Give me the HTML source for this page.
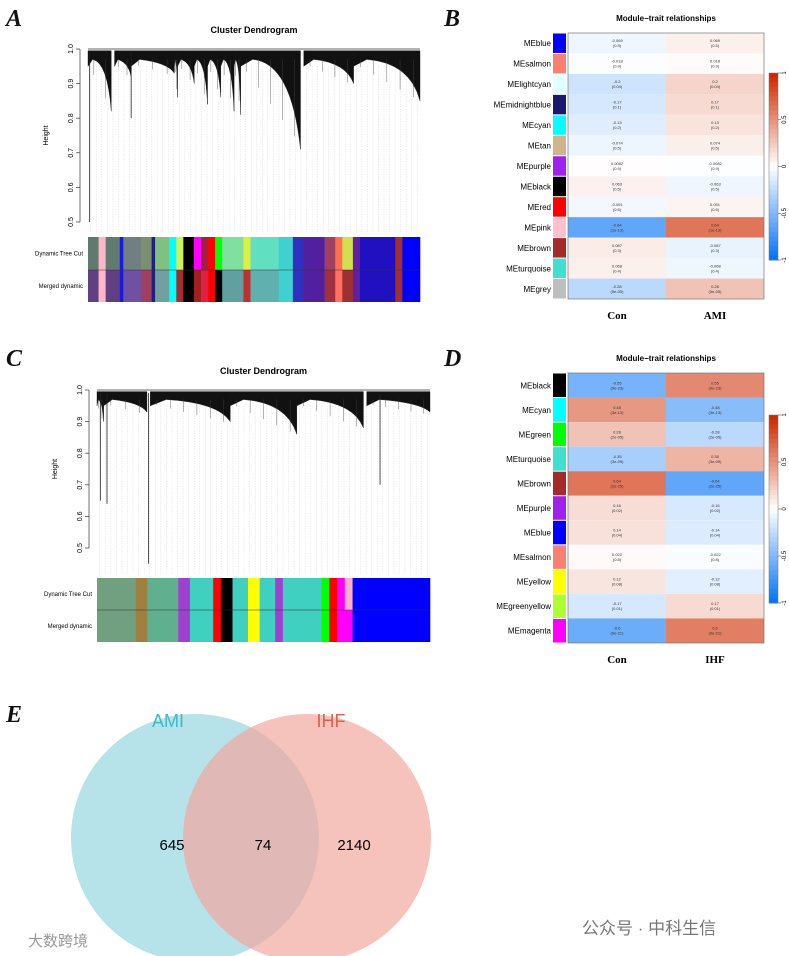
<!DOCTYPE html>
<html><head><meta charset="utf-8"><style>
body{margin:0;background:#fff;width:789px;height:956px;overflow:hidden;font-family:"Liberation Sans",sans-serif}
svg{position:absolute;left:0;top:0}
</style></head><body>
<svg id="fig" width="789" height="956" viewBox="0 0 789 956">
<g font-family="Liberation Serif,serif" font-style="italic" font-weight="bold" font-size="24" fill="#111">
<text x="6" y="26">A</text>
<text x="444" y="26">B</text>
<text x="6" y="366">C</text>
<text x="444" y="366">D</text>
<text x="6" y="722">E</text>
</g>
<g id="gA"></g>
<g id="gC"></g>
<g id="gB"></g>
<g id="gD"></g>
<g>
<circle cx="195" cy="838" r="124" fill="#a9dde6" opacity="0.85"/>
<circle cx="307" cy="838" r="124" fill="#f2a8a0" opacity="0.7"/>
<text x="168" y="727" font-size="18" fill="#3fb8c8" text-anchor="middle">AMI</text>
<text x="331" y="727" font-size="18" fill="#e0604f" text-anchor="middle">IHF</text>
<text x="172" y="850" font-size="15" text-anchor="middle">645</text>
<text x="263" y="850" font-size="15" text-anchor="middle">74</text>
<text x="354" y="850" font-size="15" text-anchor="middle">2140</text>
</g>
<text x="582" y="934" font-size="17" fill="#777" font-family="Liberation Sans,Noto Sans CJK SC,sans-serif">公众号 · 中科生信</text>
<text x="28" y="946" font-size="15" fill="#999" font-family="Liberation Sans,Noto Sans CJK SC,sans-serif">大数跨境</text>
</svg>
<script>
const NS='http://www.w3.org/2000/svg';
function mk(p,t,a,txt){const e=document.createElementNS(NS,t);for(const k in a)e.setAttribute(k,a[k]);if(txt!=null)e.textContent=txt;p.appendChild(e);return e;}

const clA=[[0,0.07,0.82],[0.08,0.13,0.92],[0.13,0.26,0.93],[0.26,0.27,0.86],[0.27,0.32,0.9],[0.32,0.36,0.84],[0.36,0.4,0.86],[0.4,0.44,0.82],[0.44,0.46,0.81],[0.46,0.64,0.71],[0.65,0.8,0.9],[0.8,1.0,0.85]];
const singA=[[0.005,0.5],[0.13,0.8]];
const clC=[[0,0.02,0.9],[0.02,0.15,0.93],[0.16,0.4,0.9],[0.4,0.6,0.86],[0.6,0.8,0.88],[0.81,1.0,0.93]];
const singC=[[0.01,0.65],[0.03,0.64],[0.155,0.45],[0.85,0.7]];
const dynA=[[3,'#607a70'],[2,'#ffb6c8'],[4,'#607a70'],[1,'#1a1adc'],[5,'#708080'],[3,'#7a9070'],[1,'#202080'],[4,'#80c080'],[2,'#00ffff'],[2,'#d0f060'],[3,'#000'],[2,'#ff00ff'],[2,'#a02040'],[2,'#ff0000'],[2,'#00ff00'],[6,'#80e0a0'],[2,'#e0f040'],[8,'#60e0c0'],[4,'#40d0d0'],[3,'#3030c0'],[6,'#5020a0'],[3,'#a04060'],[2,'#ff7050'],[3,'#d0e050'],[2,'#6020a0'],[10,'#2010c0'],[2,'#a03030'],[5,'#0000ff']];
const merA=[[3,'#604080'],[2,'#ffb6c8'],[4,'#604080'],[1,'#1a1adc'],[5,'#7050a0'],[3,'#a04060'],[1,'#202080'],[4,'#70a0a0'],[2,'#00ffff'],[2,'#a03030'],[3,'#000'],[2,'#a02020'],[2,'#e02040'],[2,'#ff0000'],[2,'#000'],[6,'#60a0a0'],[2,'#c03030'],[8,'#60b0b0'],[4,'#40d0d0'],[3,'#3030c0'],[6,'#5020a0'],[3,'#a03040'],[2,'#ff7060'],[3,'#a03030'],[2,'#6020a0'],[10,'#2010c0'],[2,'#a03030'],[5,'#0000ff']];
const dynC=[[10,'#70a080'],[3,'#a08040'],[8,'#60b090'],[3,'#a040d0'],[6,'#40d0c0'],[2,'#ff0000'],[3,'#000'],[4,'#40d0c0'],[3,'#ffff00'],[4,'#40d0c0'],[2,'#a040d0'],[10,'#40d0c0'],[2,'#00ff00'],[2,'#ff0000'],[2,'#ff00ff'],[2,'#ffb0c0'],[20,'#0000ff']];
const merC=[[10,'#70a080'],[3,'#a08040'],[8,'#60b090'],[3,'#a040d0'],[6,'#40d0c0'],[2,'#ff0000'],[3,'#000'],[4,'#40d0c0'],[3,'#ffff00'],[4,'#40d0c0'],[2,'#a040d0'],[10,'#40d0c0'],[2,'#00ff00'],[2,'#ff0000'],[4,'#ff00ff'],[20,'#0000ff']];
const ticksDen=['0.5','0.6','0.7','0.8','0.9','1.0'];

function dendro(g,cfg){
  const {x0,x1,y1,y05,cl,sing,dyn,mer,by0,by1,by2,title,lx}=cfg;
  const ys=v=>y05+(v-0.5)/0.5*(y1-y05);
  const xs=f=>x0+f*(x1-x0);
  mk(g,'text',{x:(x0+x1)/2,y:y1-16,'font-size':9,'font-weight':'bold','text-anchor':'middle',},title);
  mk(g,'line',{x1:x0-8,x2:x0-8,y1:ys(1),y2:ys(0.5),stroke:'#333','stroke-width':0.7});
  ticksDen.forEach(t=>{const y=ys(+t);mk(g,'line',{x1:x0-12,x2:x0-8,y1:y,y2:y,stroke:'#333','stroke-width':0.7});
    mk(g,'text',{x:x0-15,y:y,'font-size':7,'text-anchor':'middle',transform:`rotate(-90 ${x0-15} ${y})`,},t);});
  mk(g,'text',{x:x0-40,y:(ys(1)+ys(0.5))/2,'font-size':7,'text-anchor':'middle',transform:`rotate(-90 ${x0-40} ${(ys(1)+ys(0.5))/2})`,},'Height');
  for(let i=0;i<60;i++){const x=xs((i+0.5)/60);mk(g,'line',{x1:x,x2:x,y1:ys(0.95),y2:by0-4,stroke:'#ccc','stroke-width':0.5,'stroke-dasharray':'1 1.5'});}
  cl.forEach(c=>{const [a,b,m]=c;const top=ys(0.995);const mid=ys(0.97);
    const d=`M${xs(a)},${top} L${xs(b)},${top} L${xs(b)},${ys(m)} Q${xs(a+(b-a)*0.85)},${ys(0.96)} ${xs(a+(b-a)*0.2)},${mid} L${xs(a)},${ys(0.95)} Z`;
    const p=mk(g,'path',{d,fill:'#111',stroke:'#111','stroke-width':0.4});
    const n=Math.max(2,Math.round((b-a)*25));
    for(let k=0;k<n;k++){const f=a+(b-a)*(k+0.5)/n;const h=ys(0.97)+(ys(m)-ys(0.97))*((k+0.5)/n)*0.9+4;
      mk(g,'line',{x1:xs(f),x2:xs(f),y1:ys(0.97),y2:h,stroke:'#444','stroke-width':0.4});}});
  sing.forEach(s=>mk(g,'line',{x1:xs(s[0]),x2:xs(s[0]),y1:ys(0.99),y2:ys(s[1]),stroke:'#222','stroke-width':0.8,}));
  mk(g,'line',{x1:x0,x2:x1,y1:ys(1),y2:ys(1),stroke:'#333','stroke-width':0.7});
  [[dyn,by0,by1],[mer,by1,by2]].forEach(([arr,a,b])=>{const tot=arr.reduce((s,v)=>s+v[0],0);let c=0;
    arr.forEach(s=>{const r=mk(g,'rect',{x:xs(c/tot),y:a,width:(x1-x0)*s[0]/tot+0.3,height:b-a,fill:s[1]});c+=s[0];});});
  mk(g,'line',{x1:x0,x2:x1,y1:by1,y2:by1,stroke:'#333','stroke-width':0.6});
  mk(g,'text',{x:lx,y:(by0+by1)/2+2,'font-size':6,'text-anchor':'end',},'Dynamic Tree Cut');
  mk(g,'text',{x:lx,y:(by1+by2)/2+2,'font-size':6,'text-anchor':'end',},'Merged dynamic');
}
dendro(document.getElementById('gA'),{x0:88,x1:420,y1:49,y05:222,cl:clA,sing:singA,dyn:dynA,mer:merA,by0:237,by1:270,by2:302,title:'Cluster Dendrogram',lx:83});
dendro(document.getElementById('gC'),{x0:97,x1:430,y1:390,y05:548,cl:clC,sing:singC,dyn:dynC,mer:merC,by0:578,by1:610,by2:642,title:'Cluster Dendrogram',lx:92});

const modB=['MEblue','MEsalmon','MElightcyan','MEmidnightblue','MEcyan','MEtan','MEpurple','MEblack','MEred','MEpink','MEbrown','MEturquoise','MEgrey'];
const colB=['#0000ff','#fa8072','#e0ffff','#191970','#00ffff','#d2b48c','#a020f0','#000000','#ff0000','#ffc0cb','#a52a2a','#40e0d0','#bebebe'];
const conB=[-0.069,-0.018,-0.2,-0.17,-0.13,-0.074,0.0082,0.063,-0.051,-0.64,0.087,0.068,-0.28];
const pB=['(0.5)','(0.9)','(0.04)','(0.1)','(0.2)','(0.5)','(0.9)','(0.5)','(0.6)','(1e-13)','(0.3)','(0.4)','(5e-05)'];
const traitsB=['Con','AMI'];
const modD=['MEblack','MEcyan','MEgreen','MEturquoise','MEbrown','MEpurple','MEblue','MEsalmon','MEyellow','MEgreenyellow','MEmagenta'];
const colD=['#000000','#00ffff','#00ff00','#40e0d0','#a52a2a','#a020f0','#0000ff','#fa8072','#ffff00','#adff2f','#ff00ff'];
const conD=[-0.55,0.48,0.28,-0.35,0.64,0.16,0.14,0.022,0.12,-0.17,-0.6];
const pD=['(9e-23)','(3e-13)','(2e-05)','(3e-09)','(2e-25)','(0.02)','(0.04)','(0.8)','(0.08)','(0.01)','(9e-21)'];
const traitsD=['Con','IHF'];
const cbTicks=['-1','-0.5','0','0.5','1'];

function col(v){v=Math.max(-1,Math.min(1,v));let r,g,b;
  if(v>=0){r=255+(214-255)*v*1.2;g=255+(60-255)*v*1.1;b=255+(30-255)*v*1.15;}else{const a=-v;r=255+(40-255)*a*1.15;g=255+(130-255)*a*1.1;b=255+(230-255)*a*0.4;}
  const c=x=>Math.round(Math.max(0,Math.min(255,x)));return `rgb(${c(r)},${c(g)},${c(b)})`;}
function heat(g,cfg){
  const {mods,cols,con,p,traits,x0,x1,y0,y1,cby0,cby1,title}=cfg;
  const n=mods.length,rh=(y1-y0)/n,cw=(x1-x0)/2;
  if(title)mk(g,'text',{x:(x0+x1)/2,y:y0-12,'font-size':8,'font-weight':'bold','text-anchor':'middle',},title);
  mods.forEach((m,i)=>{const y=y0+i*rh;
    const sw=mk(g,'rect',{x:x0-15,y:y+0.5,width:13,height:rh-1,fill:cols[i]});
    const lb=mk(g,'text',{x:x0-17,y:y+rh/2+3,'font-size':8,'text-anchor':'end'},m);
    [con[i],-con[i]].forEach((v,j)=>{const c=mk(g,'rect',{x:x0+j*cw,y:y,width:cw,height:rh,fill:col(v)});
      const t=mk(g,'text',{x:x0+j*cw+cw/2,y:y+rh/2-1,'font-size':4,'text-anchor':'middle',fill:'#333'},String(v));
      const t2=mk(g,'text',{x:x0+j*cw+cw/2,y:y+rh/2+4,'font-size':4,'text-anchor':'middle',fill:'#333'},p[i]);});});
  mk(g,'rect',{x:x0,y:y0,width:x1-x0,height:y1-y0,fill:'none',stroke:'#777','stroke-width':0.7});
  traits.forEach((t,j)=>mk(g,'text',{x:x0+j*cw+cw/2,y:y1+20,'font-size':11,'font-weight':'bold','font-family':'Liberation Serif,serif','text-anchor':'middle',},t));
  const cx=x1+5,steps=40;for(let k=0;k<steps;k++){const v=1-2*k/(steps-1);mk(g,'rect',{x:cx,y:cby0+k*(cby1-cby0)/steps,width:9,height:(cby1-cby0)/steps+0.5,fill:col(v)});}
  mk(g,'rect',{x:cx,y:cby0,width:9,height:cby1-cby0,fill:'none',stroke:'#777','stroke-width':0.5,});
  cbTicks.forEach(t=>{const y=cby1-(+t+1)/2*(cby1-cby0);mk(g,'line',{x1:cx+9,x2:cx+12,y1:y,y2:y,stroke:'#333','stroke-width':0.5});
    mk(g,'text',{x:cx+17,y:y,'font-size':6,'text-anchor':'middle',transform:`rotate(-90 ${cx+17} ${y})`,},t);});
}
heat(document.getElementById('gB'),{mods:modB,cols:colB,con:conB,p:pB,traits:traitsB,x0:568,x1:764,y0:33,y1:299,cby0:73,cby1:260,title:'Module\u2212trait relationships'});
heat(document.getElementById('gD'),{mods:modD,cols:colD,con:conD,p:pD,traits:traitsD,x0:568,x1:764,y0:373,y1:643,cby0:415,cby1:603,title:'Module\u2212trait relationships'});
</script>
</body></html>
